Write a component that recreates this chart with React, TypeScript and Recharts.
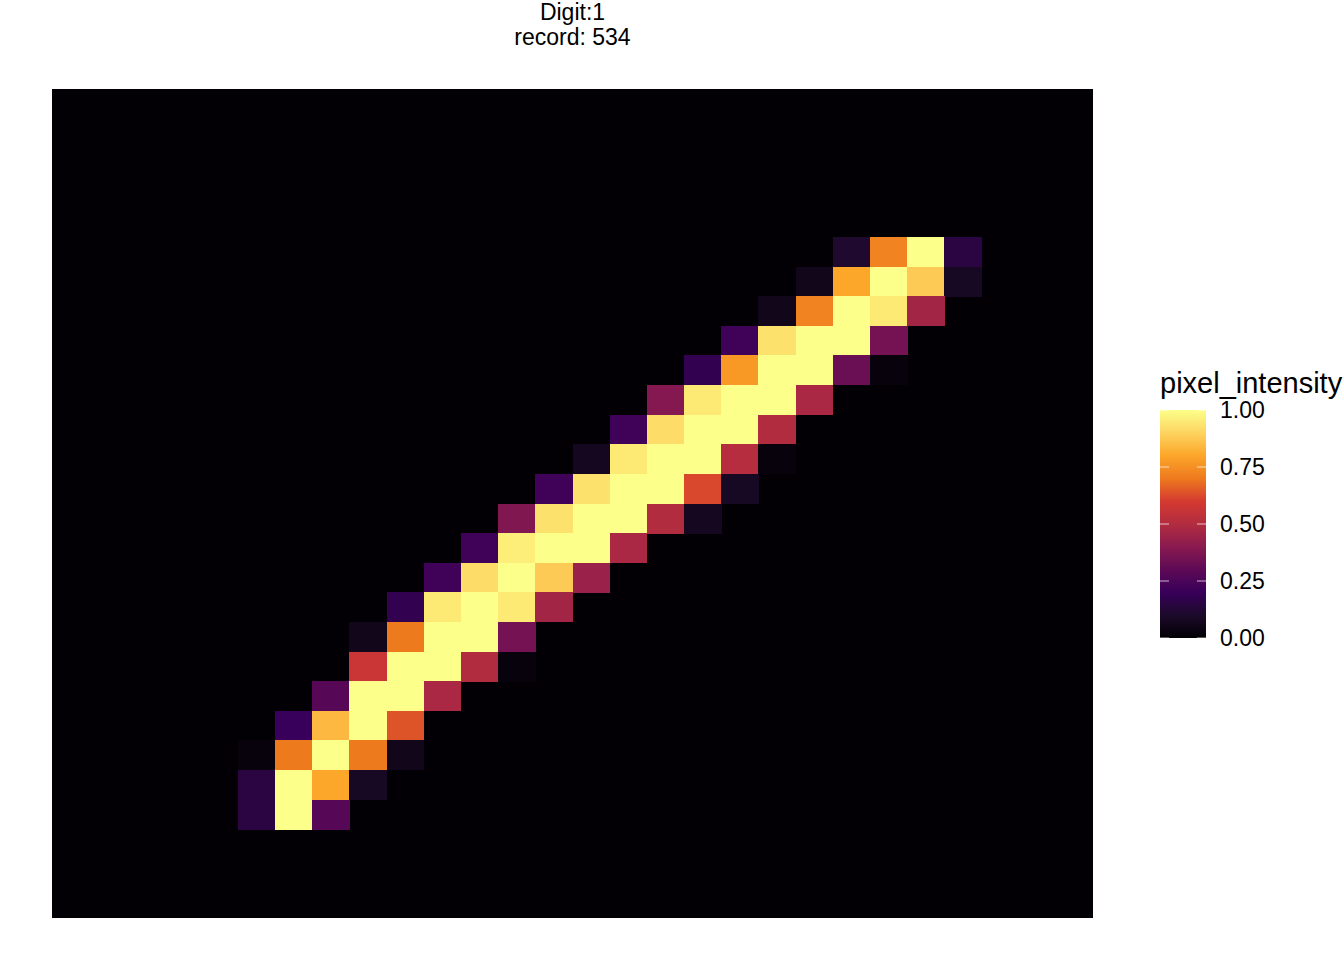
import React from "react";
import { ReferenceArea, Scatter, ScatterChart, XAxis, YAxis } from "recharts";

// 28x28 MNIST digit, only the non-zero pixels are listed row by row
const GRID_SIZE = 28;
const ROW_INDEX = [5, 6, 7, 8, 9, 10, 11, 12, 13, 14, 15, 16, 17, 18, 19, 20, 21, 22, 23, 24];
const ROW_FIRST_COL = [21, 20, 19, 18, 17, 16, 15, 14, 13, 12, 11, 10, 9, 8, 8, 7, 6, 5, 5, 5];
const ROW_VALUES = [
  [0.11, 0.72, 1.0, 0.15],
  [0.06, 0.8, 1.0, 0.88, 0.08],
  [0.06, 0.72, 1.0, 0.95, 0.46],
  [0.22, 0.93, 1.0, 1.0, 0.35],
  [0.18, 0.77, 1.0, 1.0, 0.33, 0.02],
  [0.39, 0.95, 1.0, 1.0, 0.48],
  [0.22, 0.92, 1.0, 1.0, 0.5],
  [0.07, 0.95, 1.0, 1.0, 0.51, 0.02],
  [0.22, 0.93, 1.0, 1.0, 0.62, 0.08],
  [0.38, 0.93, 1.0, 1.0, 0.5, 0.07],
  [0.22, 0.96, 1.0, 1.0, 0.48],
  [0.22, 0.92, 1.0, 0.88, 0.44],
  [0.18, 0.95, 1.0, 0.95, 0.46],
  [0.06, 0.7, 1.0, 1.0, 0.35],
  [0.57, 1.0, 1.0, 0.5, 0.02],
  [0.28, 1.0, 1.0, 0.48],
  [0.2, 0.84, 1.0, 0.64],
  [0.02, 0.7, 1.0, 0.7, 0.06],
  [0.15, 1.0, 0.8, 0.08],
  [0.15, 1.0, 0.28],
];

const LEGEND_TICKS = [1.0, 0.75, 0.5, 0.25, 0.0];

// inferno-like palette stops at 0, 0.1, ... 1 (as rendered in the reference)
const INFERNO = [
  "#020005", "#1c0a2a", "#38005a", "#5e0a56", "#8a1a50", "#b22c40",
  "#d43a30", "#ee7a1e", "#fca62a", "#fdd460", "#fcff8a",
];

const WIDTH = 1344;
const HEIGHT = 960;
const MARGIN = { top: 89, right: 251, bottom: 42, left: 52 };
const PLOT_W = WIDTH - MARGIN.left - MARGIN.right;
const PLOT_H = HEIGHT - MARGIN.top - MARGIN.bottom;
const CELL_W = PLOT_W / GRID_SIZE;
const CELL_H = PLOT_H / GRID_SIZE;

const FONT = "'Liberation Sans', Arial, Helvetica, sans-serif";

function hexToRgb(hex: string) {
  const n = parseInt(hex.slice(1), 16);
  return [(n >> 16) & 255, (n >> 8) & 255, n & 255];
}

function inferno(v: number) {
  const t = Math.max(0, Math.min(1, v)) * (INFERNO.length - 1);
  const i = Math.min(Math.floor(t), INFERNO.length - 2);
  const f = t - i;
  const a = hexToRgb(INFERNO[i]);
  const b = hexToRgb(INFERNO[i + 1]);
  const c = a.map((x, k) => Math.round(x + (b[k] - x) * f));
  return `rgb(${c[0]},${c[1]},${c[2]})`;
}

interface Pixel {
  col: number;
  row: number;
  v: number;
}

const pixels: Pixel[] = ROW_INDEX.flatMap((row, r) =>
  ROW_VALUES[r].map((v, k) => ({ col: ROW_FIRST_COL[r] + k + 0.5, row: row + 0.5, v }))
);

function PixelCell(props: any) {
  const { cx, cy, payload } = props;
  if (cx == null || cy == null) return null;
  return (
    <rect
      x={cx - CELL_W / 2}
      y={cy - CELL_H / 2}
      width={CELL_W + 0.4}
      height={CELL_H + 0.4}
      fill={inferno(payload.v)}
      shapeRendering="crispEdges"
    />
  );
}

function ColorBar() {
  const barX = 1160;
  const barTop = 410;
  const barH = 228;
  const barW = 46;
  return (
    <svg
      width={WIDTH}
      height={HEIGHT}
      style={{ position: "absolute", left: 0, top: 0, pointerEvents: "none" }}
    >
      <defs>
        <linearGradient id="infernoGrad" x1="0" y1="1" x2="0" y2="0">
          {INFERNO.map((c, i) => (
            <stop key={c} offset={`${i * 10}%`} stopColor={c} />
          ))}
        </linearGradient>
      </defs>
      <text x={barX} y={393} fontSize={29} fontFamily={FONT} fill="#000">
        pixel_intensity
      </text>
      <rect x={barX} y={barTop} width={barW} height={barH} fill="url(#infernoGrad)" />
      {LEGEND_TICKS.map((t) => {
        const y = barTop + (1 - t) * barH;
        return (
          <g key={t}>
            <line x1={barX} x2={barX + 9} y1={y} y2={y} stroke="#ffffff" strokeOpacity={0.7} />
            <line x1={barX + barW - 9} x2={barX + barW} y1={y} y2={y} stroke="#ffffff" strokeOpacity={0.7} />
            <text x={1220} y={y + 8} fontSize={23} fontFamily={FONT} fill="#000">
              {t.toFixed(2)}
            </text>
          </g>
        );
      })}
    </svg>
  );
}

export default function App() {
  return (
    <div style={{ position: "absolute", left: 0, top: 0, width: WIDTH, height: HEIGHT, background: "#fff" }}>
      <div
        style={{
          position: "absolute",
          left: MARGIN.left,
          width: PLOT_W,
          top: 0,
          textAlign: "center",
          fontFamily: FONT,
          fontSize: 23,
          lineHeight: "25px",
          color: "#000",
        }}
      >
        <div>Digit:1</div>
        <div>record: 534</div>
      </div>
      <ScatterChart width={WIDTH} height={HEIGHT} margin={MARGIN}>
        <XAxis type="number" dataKey="col" domain={[0, GRID_SIZE]} hide />
        <YAxis type="number" dataKey="row" domain={[0, GRID_SIZE]} reversed hide />
        <ReferenceArea
          x1={0}
          x2={GRID_SIZE}
          y1={0}
          y2={GRID_SIZE}
          fill={INFERNO[0]}
          fillOpacity={1}
          stroke="none"
        />
        <Scatter data={pixels} shape={<PixelCell />} isAnimationActive={false} />
      </ScatterChart>
      <ColorBar />
    </div>
  );
}
